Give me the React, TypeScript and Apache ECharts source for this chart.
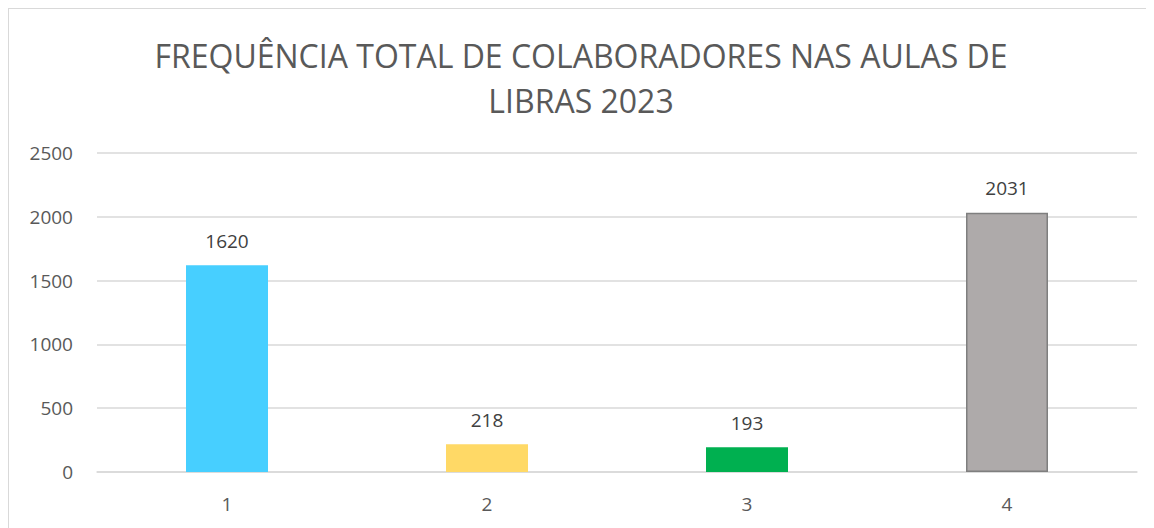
import React, { useEffect, useRef } from "react";
import * as echarts from "echarts";

const categories = ["1", "2", "3", "4"];
const values = [1620, 218, 193, 2031];
const barColors = ["#47CFFF", "#FFD966", "#00B050", "#AEAAAA"];
const barBorders = ["transparent", "transparent", "transparent", "#7F7F7F"];
const titleText = "FREQUÊNCIA TOTAL DE COLABORADORES NAS AULAS DE\nLIBRAS 2023";
const yMax = 2500;
const yStep = 500;

export default function App() {
  const ref = useRef<HTMLDivElement>(null);
  useEffect(() => {
    document.body.style.overflow = "hidden";
    document.documentElement.style.overflow = "hidden";
    const chart = echarts.init(ref.current!, null, { renderer: "svg" });
    const font = "Open Sans";
    chart.setOption({
      animation: false,
      backgroundColor: "#ffffff",
      title: {
        text: titleText,
        left: "center",
        top: 19,
        textStyle: {
          fontFamily: font,
          fontSize: 32,
          fontWeight: "normal",
          color: "#595959",
          lineHeight: 45,
        },
      },
      grid: { left: 88, right: 16, top: 144, bottom: 67 },
      xAxis: {
        type: "category",
        data: categories,
        axisLine: { show: true, lineStyle: { color: "#D9D9D9", width: 1.5 } },
        axisTick: { show: false },
        axisLabel: { fontFamily: font, fontSize: 19, color: "#595959", margin: 22 },
      },
      yAxis: {
        type: "value",
        min: 0,
        max: yMax,
        interval: yStep,
        axisLine: { show: false },
        axisTick: { show: false },
        splitLine: { lineStyle: { color: "#D9D9D9", width: 1.5 } },
        axisLabel: {
          fontFamily: font,
          fontSize: 19,
          color: "#595959",
          margin: 24,
          formatter: (v: number) => String(v),
        },
      },
      series: [
        {
          type: "bar",
          barWidth: 82,
          data: values.map((v, i) => ({
            value: v,
            itemStyle: {
              color: barColors[i],
              borderColor: barBorders[i],
              borderWidth: barBorders[i] === "transparent" ? 0 : 1.5,
            },
          })),
          label: {
            show: true,
            position: "top",
            distance: 15,
            fontFamily: font,
            fontSize: 19,
            color: "#404040",
          },
        },
      ],
    });
    return () => chart.dispose();
  }, []);
  return (
    <div
      ref={ref}
      style={{
        width: 1144,
        height: 530,
        borderTop: "1px solid #D9D9D9",
        borderLeft: "1px solid #D9D9D9",
        borderRight: "1px solid #D9D9D9",
      }}
    />
  );
}
